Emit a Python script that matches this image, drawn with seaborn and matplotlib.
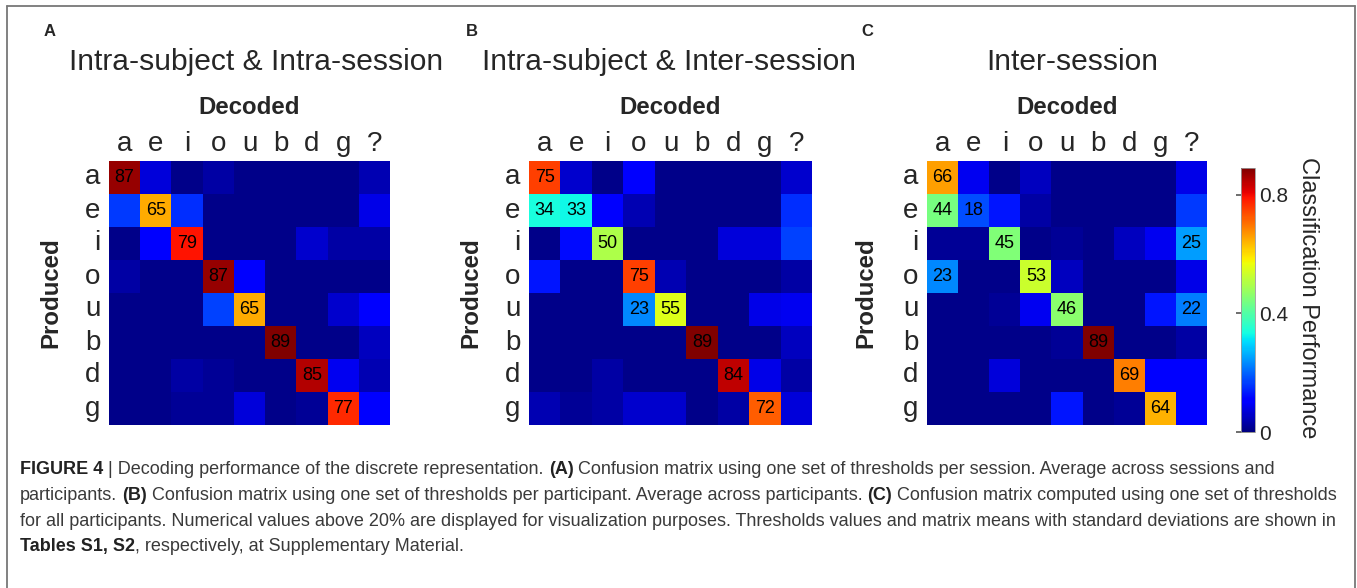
import numpy as np
import pandas as pd
import matplotlib
matplotlib.use("Agg")
import matplotlib.pyplot as plt
from matplotlib.lines import Line2D
import seaborn as sns

sns.set_style("white")
plt.rcParams['font.family'] = ['Liberation Sans', 'DejaVu Sans']

produced = ["a", "e", "i", "o", "u", "b", "d", "g"]
decoded = ["a", "e", "i", "o", "u", "b", "d", "g", "?"]

panel_letters = ["A", "B", "C"]
panel_titles = ["Intra-subject & Intra-session", "Intra-subject & Inter-session", "Inter-session"]

intra_session = [
    [0.87, 0.07, 0.01, 0.03, 0.01, 0.01, 0.01, 0.01, 0.04],
    [0.16, 0.65, 0.15, 0.01, 0.01, 0.01, 0.01, 0.01, 0.08],
    [0.01, 0.11, 0.79, 0.01, 0.01, 0.01, 0.06, 0.03, 0.03],
    [0.03, 0.01, 0.01, 0.87, 0.10, 0.01, 0.01, 0.01, 0.01],
    [0.01, 0.01, 0.01, 0.17, 0.65, 0.01, 0.01, 0.06, 0.10],
    [0.01, 0.01, 0.01, 0.01, 0.01, 0.89, 0.01, 0.01, 0.05],
    [0.01, 0.01, 0.03, 0.02, 0.01, 0.01, 0.85, 0.09, 0.04],
    [0.01, 0.01, 0.02, 0.02, 0.07, 0.01, 0.02, 0.77, 0.10],
]
inter_session_subject = [
    [0.75, 0.06, 0.01, 0.10, 0.01, 0.01, 0.01, 0.01, 0.06],
    [0.34, 0.33, 0.10, 0.04, 0.01, 0.01, 0.01, 0.01, 0.15],
    [0.01, 0.12, 0.50, 0.01, 0.01, 0.01, 0.07, 0.07, 0.17],
    [0.13, 0.01, 0.01, 0.75, 0.04, 0.01, 0.01, 0.01, 0.03],
    [0.01, 0.01, 0.01, 0.23, 0.55, 0.01, 0.01, 0.08, 0.09],
    [0.01, 0.01, 0.01, 0.01, 0.01, 0.89, 0.01, 0.01, 0.05],
    [0.01, 0.01, 0.03, 0.01, 0.01, 0.01, 0.84, 0.08, 0.03],
    [0.04, 0.02, 0.03, 0.06, 0.06, 0.01, 0.03, 0.72, 0.07],
]
inter_session = [
    [0.66, 0.09, 0.01, 0.05, 0.01, 0.01, 0.01, 0.01, 0.08],
    [0.44, 0.18, 0.13, 0.03, 0.01, 0.01, 0.01, 0.01, 0.16],
    [0.02, 0.02, 0.45, 0.01, 0.02, 0.01, 0.05, 0.09, 0.25],
    [0.23, 0.01, 0.01, 0.53, 0.05, 0.01, 0.01, 0.01, 0.08],
    [0.01, 0.01, 0.02, 0.09, 0.46, 0.01, 0.01, 0.13, 0.22],
    [0.01, 0.01, 0.01, 0.01, 0.02, 0.89, 0.01, 0.01, 0.03],
    [0.01, 0.01, 0.07, 0.01, 0.01, 0.01, 0.69, 0.10, 0.10],
    [0.01, 0.01, 0.01, 0.01, 0.13, 0.01, 0.02, 0.64, 0.11],
]
matrices = [intra_session, inter_session_subject, inter_session]

cbar_ticks = [0, 0.4, 0.8]
cbar_ticklabels = ["0", "0.4", "0.8"]
cbar_label = "Classification Performance"

caption_lines = [
    "**FIGURE 4** | Decoding performance of the discrete representation. **(A)** Confusion matrix using one set of thresholds per session. Average across sessions and",
    "participants. **(B)** Confusion matrix using one set of thresholds per participant. Average across participants. **(C)** Confusion matrix computed using one set of thresholds",
    "for all participants. Numerical values above 20% are displayed for visualization purposes. Thresholds values and matrix means with standard deviations are shown in",
    "**Tables S1, S2**, respectively, at Supplementary Material.",
]

W, H = 1357, 588
fig = plt.figure(figsize=(W / 100, H / 100), dpi=100)


def fx(px):
    return px / W


def fy(py):
    return 1 - py / H


VMIN, VMAX = 0.0, 0.89
SHOW = 0.175

# heatmap boxes in pixels (left, top, right, bottom)
boxes = [(109, 161, 390, 425), (529, 161, 812, 425), (927, 161, 1207, 425)]
title_x = [256, 669, 1072]
letter_x = [50, 472, 867]
produced_x = [51, 471, 866]

mappable = None
for k, (mat, box) in enumerate(zip(matrices, boxes)):
    l, t, r, b = box
    ax = fig.add_axes([fx(l), fy(b), fx(r - l), (b - t) / H])
    df = pd.DataFrame(mat, index=produced, columns=decoded)
    vals = df.values
    annot = np.where(vals >= SHOW, np.char.mod("%d", np.round(vals * 100).astype(int)), "")
    sns.heatmap(df, ax=ax, cmap="jet", vmin=VMIN, vmax=VMAX, cbar=False,
                annot=annot, fmt="", annot_kws={"color": "black", "fontsize": 13})
    mappable = ax.collections[0]
    ax.xaxis.tick_top()
    ax.tick_params(axis="both", length=0, labelsize=20, pad=3)
    ax.set_xticklabels(decoded, rotation=0)
    ax.set_yticklabels(produced, rotation=0)
    ax.tick_params(axis="y", pad=6)
    ax.set_xlabel("")
    ax.set_ylabel("")
    cx = (l + r) / 2
    fig.text(fx(title_x[k]), fy(62), panel_titles[k], ha="center", va="center", fontsize=21.6)
    fig.text(fx(cx), fy(107), "Decoded", ha="center", va="center", fontsize=17.3, fontweight="bold")
    fig.text(fx(letter_x[k]), fy(32), panel_letters[k], ha="center", va="center", fontsize=12, fontweight="bold")
    fig.text(fx(produced_x[k]), fy((t + b) / 2), "Produced", ha="center", va="center",
             rotation=90, fontsize=17.3, fontweight="bold")

# colorbar
cax = fig.add_axes([fx(1241), fy(432), fx(14), 264 / H])
cb = fig.colorbar(mappable, cax=cax)
cb.set_ticks(cbar_ticks)
cb.set_ticklabels(cbar_ticklabels)
cax.tick_params(direction="in", length=14, width=1.2, color="#555555", labelsize=15, pad=3)
cb.outline.set_edgecolor("#999999")
cb.outline.set_linewidth(0.6)
fig.text(fx(1308), fy(298), cbar_label, rotation=-90, ha="center", va="center", fontsize=17)

# border
border_color = "#777777"
fig.add_artist(Line2D([fx(7), fx(7)], [0, fy(6)], transform=fig.transFigure, color=border_color, lw=1.3))
fig.add_artist(Line2D([fx(7), fx(1355)], [fy(6), fy(6)], transform=fig.transFigure, color=border_color, lw=1.3))
fig.add_artist(Line2D([fx(1355), fx(1355)], [0, fy(6)], transform=fig.transFigure, color=border_color, lw=1.3))

# caption with mixed bold / regular pieces
renderer = fig.canvas.get_renderer()
CAP_FS = 13.0


def text_width(s, weight):
    t1 = fig.text(0, 0, "|" + s + "|", fontsize=CAP_FS, fontweight=weight)
    t2 = fig.text(0, 0, "||", fontsize=CAP_FS, fontweight=weight)
    w = t1.get_window_extent(renderer).width - t2.get_window_extent(renderer).width
    t1.remove()
    t2.remove()
    return w


line_y = [470, 495.5, 521, 546.5]
for line, yy in zip(caption_lines, line_y):
    parts = line.split("**")
    xpx = 20.0
    for i, part in enumerate(parts):
        if part == "":
            continue
        weight = "bold" if i % 2 == 1 else "normal"
        color = "#222222" if weight == "bold" else "#3a3a3a"
        lead = part[: len(part) - len(part.lstrip(" "))]
        lead_w = text_width(lead, weight) if lead else 0.0
        core = part.strip(" ")
        if core:
            fig.text(fx(xpx + lead_w), fy(yy), core, fontsize=CAP_FS, fontweight=weight,
                     color=color, ha="left", va="center")
        xpx += text_width(part, weight)

fig.savefig("out.png", dpi=100)
